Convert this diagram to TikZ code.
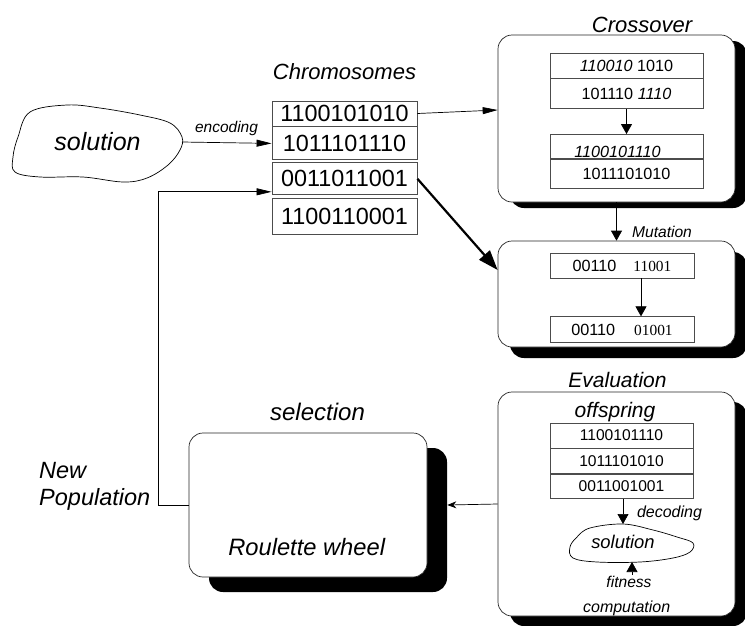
\documentclass[tikz,border=0pt]{standalone}
\usepackage{fontspec}
\setmainfont{Liberation Sans}
\newfontfamily\serifdigits{Liberation Serif}
\usetikzlibrary{arrows.meta,positioning,shadows}
\newcommand{\fsz}[1]{\fontsize{#1}{#1}\selectfont}

\begin{document}
\begin{tikzpicture}[x=1pt,y=-1pt,
  txt/.style={inner sep=1pt,anchor=base},
  chrom/.style={draw=black!70,line width=0.9pt,minimum width=145pt,inner sep=0pt,font=\fsz{23.4}},
  cell/.style={draw=black!70,line width=0.7pt,inner sep=0pt,font=\fsz{16.2}},
  panel/.style={draw=black!85,line width=0.7pt,fill=white,rounded corners=14pt,minimum width=237pt},
  dshadow/.style 2 args={drop shadow={shadow xshift=#1,shadow yshift=#2,fill=black,opacity=1}},
  ar/.style={-{Triangle[length=15pt,width=7pt]},line width=0.7pt},
  arin/.style={-{Triangle[length=10pt,width=11pt]},line width=0.7pt}
]
\useasboundingbox (0,0) rectangle (745,625);

\node[panel,dshadow={12pt}{-6pt},minimum height=167pt] (cross) at (616.5,118.5) {};
\node[panel,dshadow={12pt}{-11pt},minimum height=106pt] (mut) at (616.5,294) {};
\node[panel,dshadow={12pt}{-10pt},minimum height=224pt] (eval) at (616.5,504) {};
\node[panel,dshadow={20pt}{-15pt},minimum width=238pt,minimum height=144pt] (roul) at (308,505) {};

\node[txt,font=\fsz{22}\itshape] (chromt) at (344.5,79) {Chromosomes};
\node[txt,font=\fsz{22}\itshape] (crosst) at (642,32) {Crossover};
\node[txt,font=\fsz{21}\itshape] (evalt) at (617.5,387) {Evaluation};
\node[txt,font=\fsz{24}\itshape] (selt) at (317.5,420) {selection};
\node[txt,font=\fsz{23.7}\itshape] (wheel) at (306.7,555) {Roulette wheel};
\node[font=\fontsize{23.5}{27}\selectfont\itshape,align=left,anchor=west,inner sep=0pt] (newpop) at (39,486.5) {New\\Population};

\node[txt,font=\fsz{25}\itshape] (sol) at (97.5,150) {solution};
\draw[line width=0.7pt] plot[smooth cycle,tension=0.6] coordinates {(30,112) (67,105) (100,108) (140,115) (170,123) (182,137) (180,150) (168,165) (147,178) (123,182) (83,177) (40,177) (15,172) (13,157) (18,137)};
\coordinate (solR) at (182,142);

\node[chrom,minimum height=25pt] (c1) at (344.5,113.5) {1100101010};
\node[chrom,minimum height=33pt,below=0pt of c1] (c2) {1011101110};
\node[chrom,minimum height=32pt,below=2pt of c2] (c3) {0011011001};
\node[chrom,minimum height=36pt,below=3pt of c3] (c4) {1100110001};

\draw[ar] (solR) -- (c2.west);
\node[txt,font=\fsz{15.5}\itshape] (enc) at (226.5,132) {encoding};
\draw[ar] (c1.east) -- ([yshift=8.5pt]cross.west);
\draw[-{Triangle[length=20pt,width=14pt]},line width=2.2pt] (c3.east) -- ([yshift=24pt]mut.west);
\draw[ar] (roul.west) -- ++(-30,0) |- ([yshift=-13pt]c3.west);
\draw[-{Stealth[length=9pt,width=7pt]},line width=0.7pt] (eval.west) -- ([xshift=20pt]roul.east);

\node[cell,minimum width=153pt,minimum height=25pt] (x1) at (626.5,65.5) {{\itshape 110010} 1010};
\node[cell,minimum width=153pt,minimum height=30pt,below=0pt of x1] (x2) {101110 {\itshape 1110}};
\node[cell,minimum width=153pt,minimum height=24pt,below=25pt of x2,
      label={[font=\fsz{16.2}\itshape,xshift=-9pt,yshift=-6pt]center:1100101110}] (x3) {};
\node[cell,minimum width=153pt,minimum height=29pt,below=0pt of x3] (x4) {1011101010};
\draw[arin] (x2) -- (x3);

\draw[arin] (cross.south) -- (mut.north);
\node[txt,font=\fsz{15.6}\itshape] (mutt) at (662,237) {Mutation};
\node[cell,minimum width=144pt,minimum height=25pt] (m1) at (622,265.5) {00110\hspace{17pt}{\serifdigits\fsz{15.4}11001}};
\node[cell,minimum width=144pt,minimum height=26pt,below=38pt of m1] (m2) {00110\hspace{19pt}{\serifdigits\fsz{15.4}01001}};
\draw[arin] ([xshift=19pt]m1.south) -- ([xshift=19pt]m2.north);

\node[txt,font=\fsz{21}\itshape] (offs) at (615,417) {offspring};
\node[cell,minimum width=143pt,minimum height=25pt,font=\fsz{15.6}] (e1) at (621.5,435.5) {1100101110};
\node[cell,minimum width=143pt,minimum height=25pt,font=\fsz{15.6},below=0pt of e1] (e2) {1011101010};
\node[cell,minimum width=143pt,minimum height=24pt,font=\fsz{15.6},below=0pt of e2] (e3) {0011001001};
\node[txt,font=\fsz{18.4}\itshape] (sol2) at (623,548) {solution};
\draw[line width=0.7pt] plot[smooth cycle,tension=0.6] coordinates {(570,547) (577,537) (590,528) (623,524) (653,530) (677,537) (693,543) (690,552) (673,558) (640,562) (597,562) (573,558)};
\coordinate (sbtop) at (623,524);
\coordinate (sbbot) at (632,562);
\draw[arin] (e3.south -| sbtop) -- (sbtop);
\node[txt,font=\fsz{16}\itshape] (dec) at (669.5,517) {decoding};
\node[txt,font=\fsz{15.6}\itshape] (fit) at (629,587) {fitness};
\node[txt,font=\fsz{16}\itshape] (comp) at (626.7,612) {computation};
\draw[arin] (fit.north -| sbbot) -- (sbbot);
\end{tikzpicture}
\end{document}
